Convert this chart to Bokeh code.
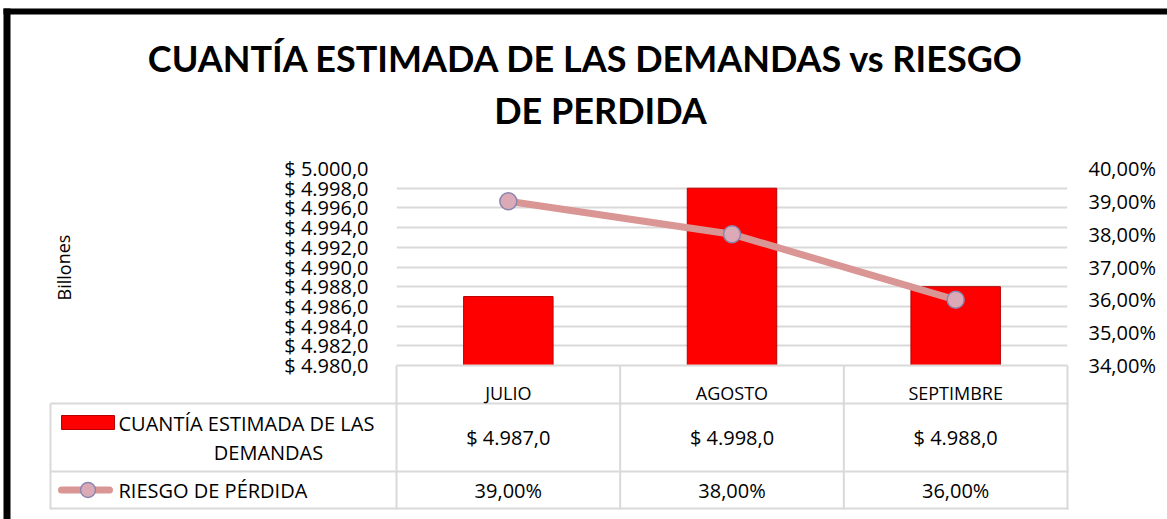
from bokeh.plotting import figure
from bokeh.layouts import column
from bokeh.models import FixedTicker, LinearAxis, Range1d, FactorRange
from bokeh.core.properties import value
from bokeh.embed import file_html
from bokeh.resources import INLINE

# ---------------- data ----------------
categories = ["JULIO", "AGOSTO", "SEPTIMBRE"]
cuantia = [4987.0, 4998.0, 4988.0]          # billones
riesgo = [0.39, 0.38, 0.36]                 # riesgo de pérdida
y_ticks = [4980, 4982, 4984, 4986, 4988, 4990, 4992, 4994, 4996, 4998, 5000]
y_tick_labels = ["$ 4.980,0", "$ 4.982,0", "$ 4.984,0", "$ 4.986,0", "$ 4.988,0", "$ 4.990,0",
                 "$ 4.992,0", "$ 4.994,0", "$ 4.996,0", "$ 4.998,0", "$ 5.000,0"]
pct_ticks = [0.34, 0.35, 0.36, 0.37, 0.38, 0.39, 0.40]
pct_tick_labels = ["34,00%", "35,00%", "36,00%", "37,00%", "38,00%", "39,00%", "40,00%"]
series_names = ["CUANTÍA ESTIMADA DE LAS", "DEMANDAS", "RIESGO DE PÉRDIDA"]
title_lines = ["CUANTÍA ESTIMADA DE LAS DEMANDAS vs RIESGO", "DE PERDIDA"]
y_axis_title = "Billones"


def fmt_money(v):
    s = f"{v:,.1f}".replace(",", "X").replace(".", ",").replace("X", ".")
    return "$ " + s


def fmt_pct(v):
    return f"{v * 100:.2f}%".replace(".", ",")


W, H = 1167, 519
FL, FR, FT, FB = 396, 1067, 168, 365   # plot-area edges in canvas pixels
GRID = "#d9d9d9"
FONT = "Open Sans"
BAR = "#ff0000"
BAR_EDGE = "#b80000"
LINE = "#d99694"
MK_FILL = "#dcaab6"
MK_EDGE = "#8a86ae"
TBL_SIZE = "20px"

# ---------- background layer: frame, title, data table ----------
bg = figure(width=W, height=H, x_range=Range1d(0, W), y_range=Range1d(H, 0),
            x_axis_location=None, y_axis_location=None, title=None,
            min_border=0, output_backend="svg", toolbar_location=None,
            frame_align=False)
bg.outline_line_color = None
bg.xgrid.visible = False
bg.ygrid.visible = False
bg.background_fill_color = "white"
bg.border_fill_color = "white"

# outer chart border (top and left)
bg.quad(left=[3, 3], right=[W, 10], top=[8, 8], bottom=[14, H],
        fill_color="#000000", line_color=None)

# title
bg.text(x=[586, 600], y=[57, 109], text=title_lines, text_font=value("Lato"),
        text_font_style="bold", text_font_size="36px", text_align="center",
        text_baseline="middle", text_color="#000000")

# y axis title
bg.text(x=[63], y=[267], text=[y_axis_title], text_font=value(FONT),
        text_font_size="18px", text_align="center", text_baseline="middle",
        angle=1.5708, text_color="#000000")

# data table grid
col_w = (FR - FL) / 3
col_edges = [FL + i * col_w for i in range(4)]
centers = [FL + (i + 0.5) * col_w for i in range(3)]
rows = [403, 471, 508]
bg.segment(x0=[50] * 3, x1=[FR + 1] * 3, y0=rows, y1=rows, line_color=GRID, line_width=2)
bg.segment(x0=[50] + col_edges, x1=[50] + col_edges, y0=[403] + [FB] * 4,
           y1=[509] * 5, line_color=GRID, line_width=2)

# table values
bg.text(x=centers, y=[437] * 3, text=[fmt_money(v) for v in cuantia],
        text_font=value(FONT), text_font_size=TBL_SIZE, text_align="center",
        text_baseline="middle", text_color="#000000")
bg.text(x=centers, y=[490] * 3, text=[fmt_pct(v) for v in riesgo],
        text_font=value(FONT), text_font_size=TBL_SIZE, text_align="center",
        text_baseline="middle", text_color="#000000")

# table legend keys
bg.quad(left=[61], right=[114], top=[415], bottom=[429], fill_color=BAR, line_color=BAR_EDGE)
bg.segment(x0=[61], x1=[109], y0=[489.5], y1=[489.5], line_color=LINE, line_width=7,
           line_cap="round")
bg.scatter(x=[87.5], y=[489.5], size=15, fill_color=MK_FILL, line_color=MK_EDGE, line_width=1.5)
bg.text(x=[118, 268, 118], y=[423, 452, 490], text=series_names,
        text_align=["left", "center", "left"], text_font=value(FONT),
        text_font_size=TBL_SIZE, text_baseline="middle", text_color="#000000")

# ---------- chart layer ----------
p = figure(width=W, height=H, x_range=FactorRange(*categories),
           y_range=Range1d(y_ticks[0], y_ticks[-1]), title=None,
           output_backend="svg", toolbar_location=None,
           min_border_left=FL, min_border_right=W - FR,
           min_border_top=FT, min_border_bottom=H - FB,
           margin=(-H, 0, 0, 0), frame_align=False)
p.outline_line_color = None
p.background_fill_alpha = 0
p.border_fill_alpha = 0
p.extra_y_ranges = {"pct": Range1d(pct_ticks[0], pct_ticks[-1])}

p.xgrid.grid_line_color = None
p.ygrid.ticker = FixedTicker(ticks=y_ticks)
p.ygrid.grid_line_color = GRID
p.ygrid.grid_line_width = 2

# bars
p.vbar(x=categories, top=cuantia, bottom=y_ticks[0], width=0.4,
       fill_color=BAR, line_color=BAR_EDGE, line_width=1)

# line + markers
p.line(x=categories, y=riesgo, y_range_name="pct", line_color=LINE, line_width=7)
p.scatter(x=categories, y=riesgo, y_range_name="pct", size=17,
          fill_color=MK_FILL, line_color=MK_EDGE, line_width=1.5)

# left axis
p.yaxis.ticker = FixedTicker(ticks=y_ticks)
p.yaxis.major_label_overrides = dict(zip(y_ticks, y_tick_labels))
p.yaxis.axis_line_color = None
p.yaxis.major_tick_line_color = None
p.yaxis.minor_tick_line_color = None
p.yaxis.major_label_standoff = 22
p.yaxis.major_label_text_font = FONT
p.yaxis.major_label_text_font_size = "20px"
p.yaxis.major_label_text_color = "#000000"

# right axis
ax2 = LinearAxis(y_range_name="pct", ticker=FixedTicker(ticks=pct_ticks))
ax2.major_label_overrides = dict(zip(pct_ticks, pct_tick_labels))
ax2.axis_line_color = None
ax2.major_tick_line_color = None
ax2.minor_tick_line_color = None
ax2.major_label_standoff = 15
ax2.major_label_text_font = FONT
ax2.major_label_text_font_size = "20px"
ax2.major_label_text_color = "#000000"
p.add_layout(ax2, "right")

# x axis = header row of the data table
p.xaxis.axis_line_color = GRID
p.xaxis.axis_line_width = 2
p.xaxis.major_tick_line_color = None
p.xaxis.minor_tick_line_color = None
p.xaxis.major_label_standoff = 9
p.xaxis.major_label_text_font = FONT
p.xaxis.major_label_text_font_size = "18px"
p.xaxis.major_label_text_color = "#000000"

layout = column(bg, p)
open("out.html", "w").write(file_html(layout, INLINE))
